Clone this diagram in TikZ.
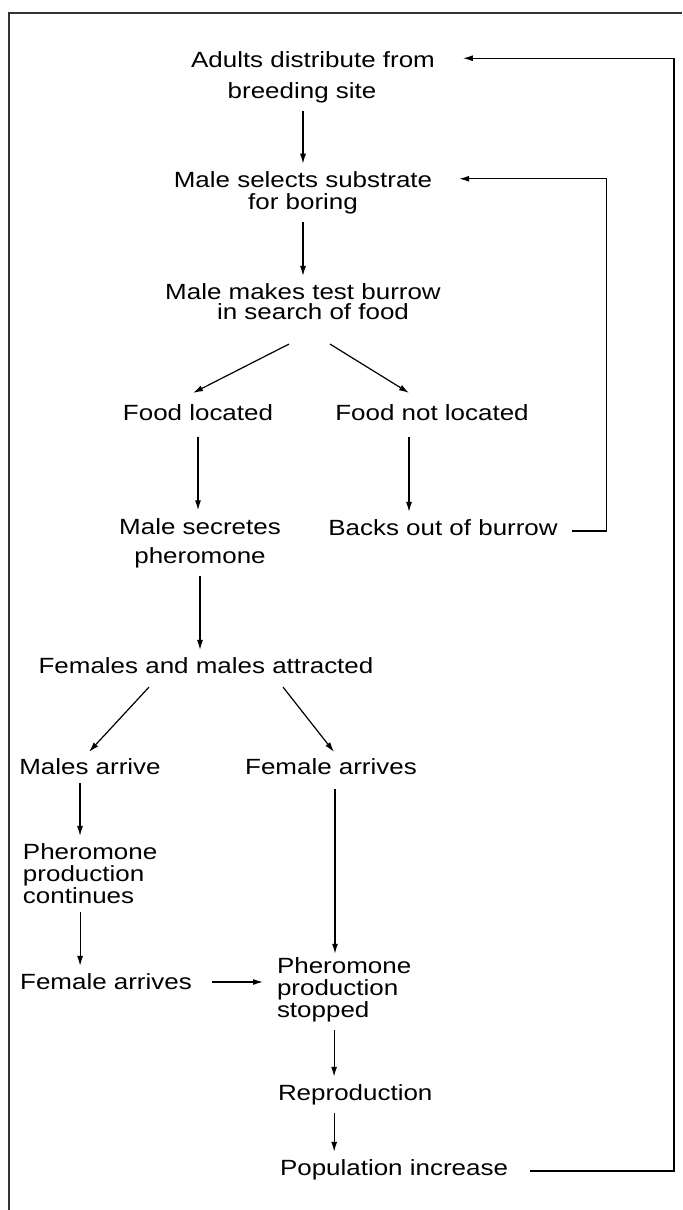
\documentclass[tikz,border=0pt]{standalone}
\usepackage{fontspec}
\setmainfont{Liberation Sans}[FakeStretch=1.18]
\usetikzlibrary{
  arrows.meta,
  positioning,
}
\tikzstyle{arrow} = [
  -{Latex[length=5pt,width=3pt]},
  line width=0.6pt,
  shorten >=4pt,
  shorten <=4pt,
]
\tikzstyle{feedback} = [
  arrow,
  shorten >=0pt,
  shorten <=0pt,
]
\tikzstyle{stage} = [
  inner sep=0pt,
  outer sep=0pt,
  align=center,
  font=\fontsize{11}{11}\selectfont,
]
\tikzstyle{stageleft} = [
  stage,
  align=left,
  anchor=west,
]

\begin{document}
\begin{tikzpicture}[x=0.5pt, y=-0.5pt]

        \useasboundingbox (0,0) rectangle (682,1210);

        %% frame, cut off at the right and bottom
        \draw [line width=0.7pt, black!80] (682,13) -- (9,13) -- (9,1210);

        \node [stage] (adults) at (313,77) {Adults distribute from\\[4.5pt] breeding site\hspace*{11pt}};
        \node [stage] (selects) at (303,193) {Male selects substrate\\ for boring};
        \node [stage] (burrow) at (303,302) {Male makes test burrow\\[-1pt] \hspace*{10pt}in search of food};

        \node [stage] (found) at (198,413) {Food located};
        \node [stage] (notfound) at (432,413) {Food not located};

        \node [stage] (secretes) at (200,543) {Male secretes\\[3.5pt] pheromone};
        \node [stage] (backs) at (443,528) {Backs out of burrow};

        \node [stage] (attracted) at (206,666) {Females and males attracted};

        \node [stage] (malesarr) at (90,767) {Males arrive};
        \node [stage] (femarr) at (331,767) {Female arrives};

        \node [stageleft] (continues) at (23,874) {Pheromone\\ production\\ continues};
        \node [stage] (femarr2) at (106,982) {Female arrives};
        \node [stageleft] (stopped) at (277,990) {Pheromone\\ production\\ stopped};

        \node [stageleft] (repro) at (278,1095) {Reproduction};
        \node [stageleft] (popinc) at (280,1170) {Population increase};

        %% main chain
        \draw [arrow] (adults.south -| selects.north) -- (selects.north);
        \draw [arrow] (selects.south) -- (selects.south |- burrow.north);

        \draw [arrow, shorten <=0pt, shorten >=0pt] ([shift={(-14,24)}]burrow.south) -- ([shift={(-5,-12)}]found.north);
        \draw [arrow, shorten <=0pt, shorten >=0pt] ([shift={(27,24)}]burrow.south) -- ([shift={(-23,-12)}]notfound.north);

        \draw [arrow, shorten <=8pt] (found.south) -- (found.south |- secretes.north);
        \draw [arrow, shorten <=8pt] ([xshift=-11.5pt]notfound.south) -- ([xshift=-11.5pt]notfound.south |- backs.north);

        \draw [arrow] (secretes.south) -- (secretes.south |- attracted.north);

        \draw [arrow, shorten <=0pt, shorten >=0pt] ([shift={(-57,13)}]attracted.south) -- ([shift={(-1,-7)}]malesarr.north);
        \draw [arrow, shorten <=0pt, shorten >=0pt] ([shift={(77,13)}]attracted.south) -- ([shift={(3,-7)}]femarr.north);

        %% left branch
        \draw [arrow] ([xshift=-5pt]malesarr.south) -- ([xshift=-5pt]malesarr.south |- continues.north);
        \draw [arrow] ([xshift=-5pt]continues.south) -- ([xshift=-5pt]continues.south |- femarr2.north);
        \draw [arrow, shorten <=10pt, shorten >=7pt] (femarr2.east) -- (femarr2.east -| stopped.west);

        %% right branch
        \draw [arrow, shorten <=7pt, shorten >=2pt] ([xshift=2pt]femarr.south) -- ([xshift=2pt]femarr.south |- stopped.north);
        \draw [arrow] ([xshift=-5pt]stopped.south) -- ([xshift=-5pt]stopped.south |- repro.north);
        \draw [arrow] ([xshift=-10.5pt]repro.south) -- ([xshift=-10.5pt]repro.south |- popinc.north);

        %% loops back
        \draw [feedback] ([shift={(14,3)}]backs.east) -- ++(35,0) |- ([shift={(27,7)}]selects.north east);
        \draw [feedback] ([shift={(22,1)}]popinc.east) -- ++(144,0) |- ([shift={(28,7)}]adults.north east);
      \end{tikzpicture}
\end{document}
